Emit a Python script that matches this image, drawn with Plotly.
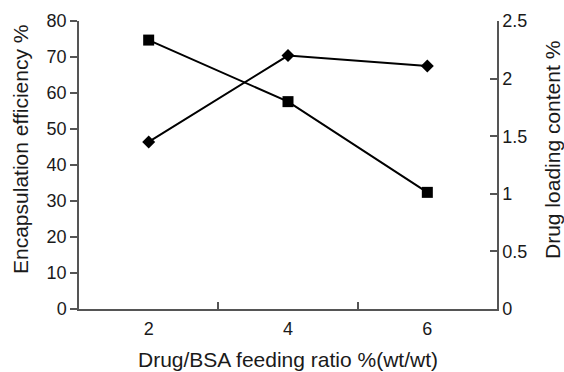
import plotly.graph_objects as go

# Drug/BSA feeding ratio (% wt/wt)
feeding_ratio = ["2", "4", "6"]
# Encapsulation efficiency (%), left axis
encapsulation_efficiency = [74.7, 57.6, 32.4]
# Drug loading content (%), right axis
drug_loading = [1.45, 2.20, 2.11]

left_ticks = [0, 10, 20, 30, 40, 50, 60, 70, 80]
right_ticks = [0, 0.5, 1, 1.5, 2, 2.5]
right_tick_text = ["0", "0.5", "1", "1.5", "2", "2.5"]

x_title = "Drug/BSA feeding ratio %(wt/wt)"
left_title = "Encapsulation efficiency %"
right_title = "Drug loading content %"

FONT = "Liberation Sans, Arial, sans-serif"
TEXT_COLOR = "#1a1a1a"
AXIS_COLOR = "#555555"
TICK_SIZE = 18
TITLE_SIZE = 21

W, H = 564, 372
M_L, M_R, M_T, M_B = 79, 67, 21, 63
plot_h = H - M_T - M_B

fig = go.Figure()

fig.add_trace(go.Scatter(
    x=feeding_ratio, y=encapsulation_efficiency,
    mode="lines+markers",
    line=dict(color="black", width=2),
    marker=dict(symbol="square", size=11, color="black"),
    yaxis="y", showlegend=False,
))

fig.add_trace(go.Scatter(
    x=feeding_ratio, y=drug_loading,
    mode="lines+markers",
    line=dict(color="black", width=2),
    marker=dict(symbol="diamond", size=10, color="black"),
    yaxis="y2", showlegend=False,
))

# Axis titles placed as paper-anchored annotations for exact positioning
title_font = dict(family=FONT, size=TITLE_SIZE, color=TEXT_COLOR)
y_title_center = 1 - (150 - M_T) / plot_h
fig.add_annotation(text=x_title, xref="paper", yref="paper", x=0.5, y=0,
                   xanchor="center", yanchor="middle", yshift=-50,
                   showarrow=False, font=title_font)
fig.add_annotation(text=left_title, xref="paper", yref="paper", x=0, y=y_title_center,
                   xanchor="center", yanchor="middle", xshift=-59, textangle=-90,
                   showarrow=False, font=title_font)
fig.add_annotation(text=right_title, xref="paper", yref="paper", x=1, y=y_title_center,
                   xanchor="center", yanchor="middle", xshift=55, textangle=-90,
                   showarrow=False, font=title_font)

fig.update_layout(
    width=W, height=H,
    margin=dict(l=M_L, r=M_R, t=M_T, b=M_B, autoexpand=False),
    paper_bgcolor="white", plot_bgcolor="white",
    font=dict(family=FONT, size=TICK_SIZE, color=TEXT_COLOR),
    xaxis=dict(
        type="category",
        range=[-0.5, 2.5],
        showline=True, linecolor=AXIS_COLOR, linewidth=1.5,
        showgrid=False, zeroline=False,
        ticks="inside", ticklen=7, tickcolor=AXIS_COLOR, tickwidth=1.5,
        tickson="boundaries",
        ticklabelstandoff=3,
        tickfont=dict(size=TICK_SIZE),
    ),
    yaxis=dict(
        range=[0, 80], tickvals=left_ticks,
        showline=True, linecolor=AXIS_COLOR, linewidth=1.5,
        showgrid=False, zeroline=False,
        ticks="outside", ticklen=7, tickcolor=AXIS_COLOR, tickwidth=1.5,
        tickfont=dict(size=TICK_SIZE),
    ),
    yaxis2=dict(
        overlaying="y", side="right",
        range=[0, 2.5], tickvals=right_ticks, ticktext=right_tick_text,
        showline=True, linecolor=AXIS_COLOR, linewidth=1.5,
        showgrid=False, zeroline=False,
        ticks="inside", ticklen=7, tickcolor=AXIS_COLOR, tickwidth=1.5,
        tickfont=dict(size=TICK_SIZE),
    ),
)

fig.write_html("out.html")
